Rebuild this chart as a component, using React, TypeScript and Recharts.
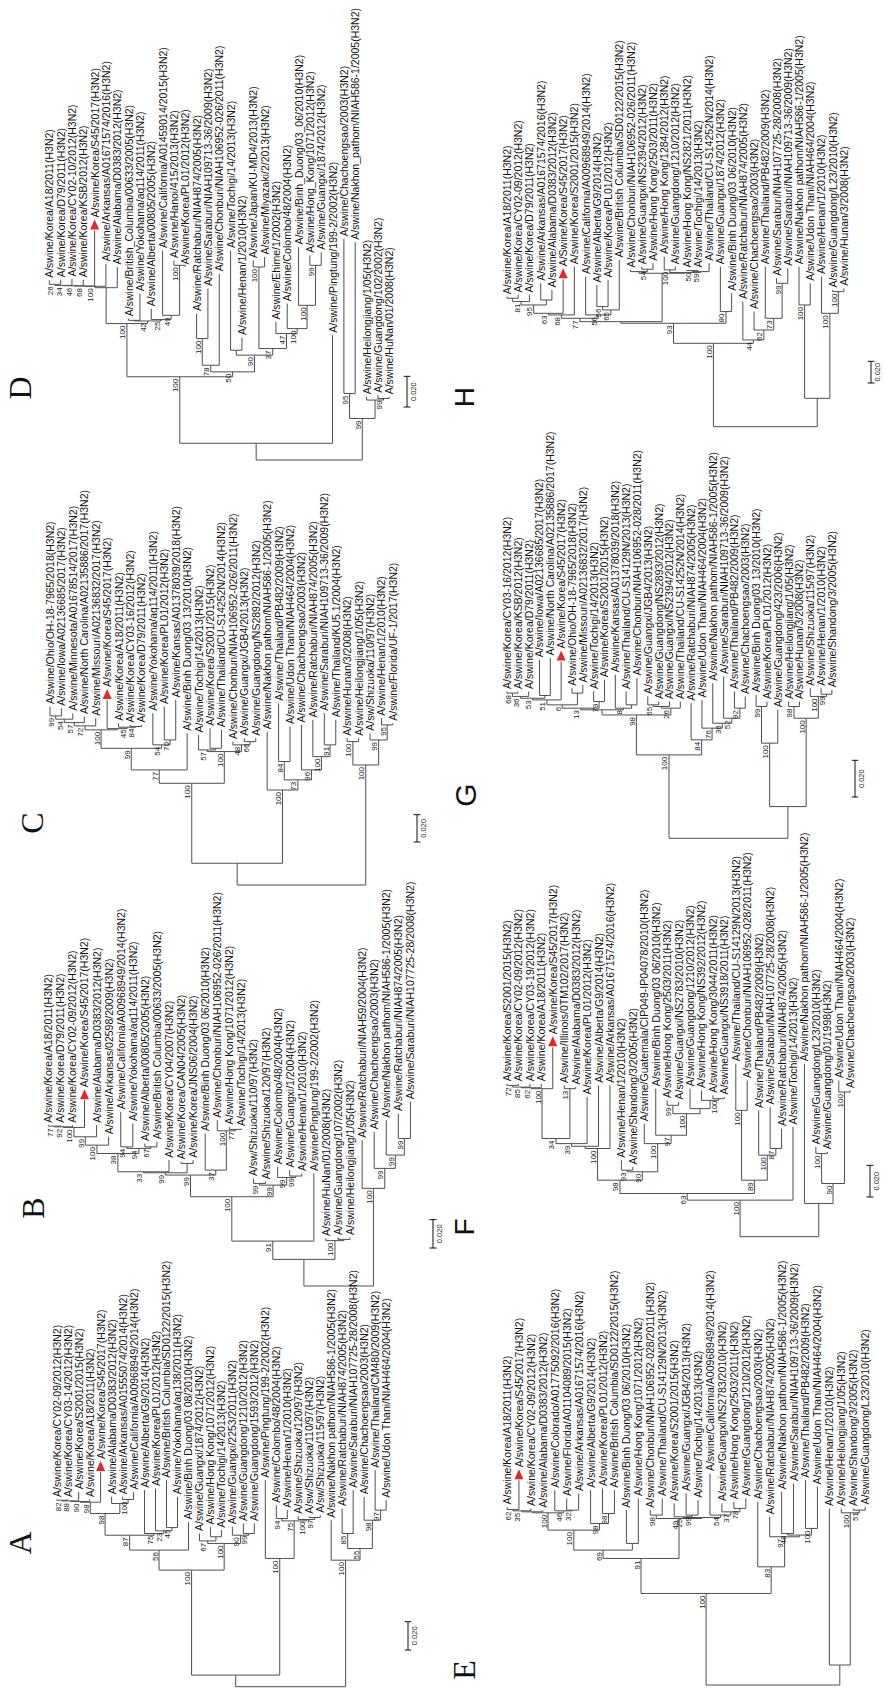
import { ComposedChart, Line, Scatter, XAxis, YAxis } from 'recharts';

// node rows: [first tip, last tip, distance from root (x0.001 subst./site), bootstrap]
type NodeRow = [number, number, number, number | null];

const tipsD = [
  'A/swine/Korea/A18/2011(H3N2)', 'A/swine/Korea/D79/2011(H3N2)', 'A/swine/Korea/CY02-10/2012(H3N2)',
  'A/swine/Korea/KSB/2012(H3N2)', 'A/swine/Korea/S45/2017(H3N2)', 'A/swine/Arkansas/A01671574/2016(H3N2)',
  'A/swine/Alabama/D0383/2012(H3N2)', 'A/swine/British_Columbia/00633/2005(H3N2)', 'A/swine/Yokohama/aq114/2011(H3N2)',
  'A/swine/Alberta/00805/2005(H3N2)', 'A/swine/California/A01459014/2015(H3N2)', 'A/swine/Hanoi/415/2013(H3N2)',
  'A/swine/Korea/PL01/2012(H3N2)', 'A/swine/Ratchaburi/NIAH874/2005(H3N2)', 'A/swine/Saraburi/NIAH109713-36/2009(H3N2)',
  'A/swine/Chonburi/NIAH106952-026/2011(H3N2)', 'A/swine/Tochigi/14/2013(H3N2)', 'A/swine/Henan/1/2010(H3N2)',
  'A/swine/Japan/KU-MD4/2013(H3N2)', 'A/swine/Miyazaki/2/2013(H3N2)', 'A/swine/Ehime/1/2002(H3N2)',
  'A/swine/Colombo/48/2004(H3N2)', 'A/swine/Binh_Duong/03_06/2010(H3N2)', 'A/swine/Hong_Kong/1071/2012(H3N2)',
  'A/swine/Guangxi/1874/2012(H3N2)', 'A/swine/Pingtung/199-2/2002(H3N2)', 'A/swine/Chachoengsao/2003(H3N2)',
  'A/swine/Nakhon_pathom/NIAH586-1/2005(H3N2)', 'A/swine/Heilongjiang/1/05(H3N2)', 'A/swine/Guangdong/102/2002(H3N2)',
  'A/swine/HuNan/01/2008(H3N2)',
];
const tipDepthD = [117.2, 117.6, 118.0, 117.6, 149.7, 128.0, 125.9, 92.2, 108.5, 98.7, 136.7, 130.2, 125.9, 95.5, 111.8, 121.5, 136.7, 79.9, 130.2, 132.4, 90.1, 102.0, 138.9, 133.5, 135.6, 81.4, 144.3, 142.1, 41.2, 42.3, 41.2];
const nodesD: NodeRow[] = [
  [0, 1, 114.6, 26], [0, 2, 113.9, 34], [0, 3, 113.7, 46], [0, 4, 113.5, 68], [0, 5, 113.3, 100], [0, 6, 112.4, null],
  [7, 8, 91.1, null], [11, 12, 127.0, 100], [10, 12, 94.4, 49], [9, 12, 91.6, 25], [7, 12, 90.7, 42], [0, 12, 89.0, 100],
  [13, 14, 79.2, 100], [13, 15, 61.8, 78], [16, 17, 71.6, null], [18, 19, 125.9, 100], [23, 24, 127.0, 99], [22, 24, 100.9, 100],
  [21, 24, 85.7, 100], [20, 24, 82.5, 47], [18, 24, 72.7, 37], [16, 24, 68.4, 90], [13, 24, 57.5, 50], [0, 24, 54.3, 100],
  [0, 25, 10.9, null], [26, 27, 43.4, 95], [29, 30, 40.1, 99], [28, 30, 39.1, null], [26, 30, 27.1, 99],
];

const tipsC = [
  'A/swine/Ohio/OH-18-7965/2018(H3N2)', 'A/swine/Iowa/A02136685/2017(H3N2)', 'A/swine/Minnesota/A01678514/2017(H3N2)',
  'A/swine/North Carolina/A02135886/2017(H3N2)', 'A/swine/Missouri/A02136832/2017(H3N2)', 'A/swine/Korea/S45/2017(H3N2)',
  'A/swine/Korea/A18/2011(H3N2)', 'A/swine/Korea/CY03-16/2012(H3N2)', 'A/swine/Korea/D79/2011(H3N2)',
  'A/swine/Yokohama/aq114/2011(H3N2)', 'A/swine/Korea/PL01/2012(H3N2)', 'A/swine/Kansas/A01378039/2018(H3N2)',
  'A/swine/Binh Duong/03 13/2010(H3N2)', 'A/swine/Tochigi/14/2013(H3N2)', 'A/swine/Korea/S2001/2015(H3N2)',
  'A/swine/Thailand/CU-S14252N/2014(H3N2)', 'A/swine/Chonburi/NIAH106952-026/2011(H3N2)', 'A/swine/Guangxi/JGB4/2013(H3N2)',
  'A/swine/Guangdong/NS2892/2012(H3N2)', 'A/swine/Nakhon pathom/NIAH586-1/2005(H3N2)', 'A/swine/Thailand/PB482/2009(H3N2)',
  'A/swine/Udon Thani/NIAH464/2004(H3N2)', 'A/swine/Chachoengsao/2003(H3N2)', 'A/swine/Ratchaburi/NIAH874/2005(H3N2)',
  'A/swine/Saraburi/NIAH109713-36/2009(H3N2)', 'A/swine/Thailand/KU5.1/2004(H3N2)', 'A/swine/Hunan/3/2008(H3N2)',
  'A/swine/Heilongjiang/1/05(H3N2)', 'A/sw/Shizuoka/110/97(H3N2)', 'A/swine/Henan/1/2010(H3N2)',
  'A/swine/Florida/UF-1/2017(H3N2)',
];
const tipDepthC = [130.5, 129.3, 125.7, 123.2, 122.0, 135.4, 118.3, 117.1, 117.1, 125.7, 130.5, 135.4, 111.0, 109.8, 114.7, 113.5, 104.9, 107.4, 107.4, 112.2, 133.0, 115.9, 117.1, 120.8, 125.7, 120.8, 107.4, 107.4, 111.0, 122.0, 118.3];
const nodesC: NodeRow[] = [
  [0, 1, 123.7, 99], [0, 2, 121.3, 54], [0, 3, 118.8, 57], [0, 4, 116.4, 72], [7, 8, 115.9, 84], [6, 8, 115.4, 45],
  [5, 8, 114.4, null], [0, 8, 113.5, 100], [10, 11, 106.1, 70], [9, 11, 102.5, 54], [0, 11, 100.0, 99], [0, 12, 84.2, 77],
  [14, 15, 100.0, null], [13, 15, 98.8, 57], [17, 18, 104.9, 66], [16, 18, 102.5, 48], [13, 18, 97.6, 100], [0, 18, 74.4, 100],
  [20, 21, 90.3, 84], [24, 25, 102.5, 91], [23, 25, 93.9, 100], [22, 25, 84.2, 96], [20, 25, 76.9, 73], [19, 25, 69.5, 100],
  [0, 25, 15.9, null], [26, 27, 104.9, 100], [29, 30, 117.1, 95], [28, 30, 106.1, 99], [26, 30, 87.8, 100],
];

const tipsB = [
  'A/swine/Korea/A18/2011(H3N2)', 'A/swine/Korea/D79/2011(H3N2)', 'A/swine/Korea/CY02-09/2012(H3N2)',
  'A/swine/Korea/S45/2017(H3N2)', 'A/swine/Alabama/D0383/2012(H3N2)', 'A/swine/Arkansas/02598/2009(H3N2)',
  'A/swine/California/A00968949/2014(H3N2)', 'A/swine/Yokohama/aq114/2011(H3N2)', 'A/swine/Alberta/00805/2005(H3N2)',
  'A/swine/British Columbia/00633/2005(H3N2)', 'A/swine/Korea/CY04/2007(H3N2)', 'A/swine/Korea/CAN04/2005(H3N2)',
  'A/swine/Korea/JNS06/2004(H3N2)', 'A/swine/Binh Duong/03 06/2010(H3N2)', 'A/swine/Chonburi/NIAH106952-026/2011(H3N2)',
  'A/swine/Hong Kong/1071/2012(H3N2)', 'A/swine/Tochigi/14/2013(H3N2)', 'A/sw/Shizuoka/110/97(H3N2)',
  'A/swine/Shizuoka/120/97(H3N2)', 'A/swine/Colombo/48/2004(H3N2)', 'A/swine/Guangxi/1/2004(H3N2)',
  'A/swine/Henan/1/2010(H3N2)', 'A/swine/Pingtung/199-2/2002(H3N2)', 'A/swine/HuNan/01/2008(H3N2)',
  'A/swine/Guangdong/107/2002(H3N2)', 'A/swine/Heilongjiang/1/05(H3N2)', 'A/swine/Ratchaburi/NIAH59/2004(H3N2)',
  'A/swine/Chachoengsao/2003(H3N2)', 'A/swine/Nakhon pathom/NIAH586-1/2005(H3N2)', 'A/swine/Ratchaburi/NIAH874/2005(H3N2)',
  'A/swine/Saraburi/NIAH107725-28/2008(H3N2)',
];
const tipDepthB = [113.5, 113.5, 113.5, 131.1, 113.5, 105.3, 122.9, 114.7, 100.6, 101.8, 88.8, 87.7, 88.8, 107.6, 117.0, 112.3, 111.2, 75.9, 73.6, 84.1, 81.8, 79.4, 79.4, 33.6, 34.3, 34.3, 102.9, 108.8, 117.0, 121.7, 130.0];
const nodesB: NodeRow[] = [
  [0, 1, 112.8, 77], [0, 2, 112.3, 92], [0, 3, 111.9, 100], [0, 4, 105.3, 99], [0, 5, 99.4, 100], [6, 7, 98.2, 94],
  [8, 9, 98.2, 67], [6, 9, 97.1, 94], [0, 9, 93.5, 38], [0, 10, 80.6, 33], [11, 12, 86.5, null], [0, 12, 79.9, 99],
  [15, 16, 110.5, 77], [14, 16, 109.5, 100], [13, 16, 81.8, 37], [0, 16, 78.3, 99], [17, 18, 72.4, 99], [20, 21, 77.6, 99],
  [19, 21, 76.6, 99], [17, 21, 71.2, 99], [0, 21, 63.0, 100], [0, 22, 31.7, 91], [24, 25, 32.9, null], [23, 25, 32.0, 100],
  [0, 25, 18.8, null], [29, 30, 104.1, 99], [28, 30, 92.4, 99], [27, 30, 83.0, 99], [26, 30, 68.9, 100],
];

const tipsA = [
  'A/swine/Korea/CY02-09/2012(H3N2)', 'A/swine/Korea/CY03-14/2012(H3N2)', 'A/swine/Korea/S2001/2015(H3N2)',
  'A/swine/Korea/A18/2011(H3N2)', 'A/swine/Korea/S45/2017(H3N2)', 'A/swine/Alabama/D0383/2012(H3N2)',
  'A/swine/Arkansas/A01555074/2014(H3N2)', 'A/swine/California/A00968949/2014(H3N2)', 'A/swine/Alberta/G9/2014(H3N2)',
  'A/swine/Korea/PL01/2012(H3N2)', 'A/swine/British Columbia/SD0122/2015(H3N2)', 'A/swine/Yokohama/aq138/2011(H3N2)',
  'A/swine/Binh Duong/03 08/2010(H3N2)', 'A/swine/Guangxi/1874/2012(H3N2)', 'A/swine/Hong Kong/1071/2012(H3N2)',
  'A/swine/Tochigi/14/2013(H3N2)', 'A/swine/Guangxi/2253/2011(H3N2)', 'A/swine/Guangdong/1210/2012(H3N2)',
  'A/swine/Guangdong/1593/2012(H3N2)', 'A/swine/Pingtung/199-2/2002(H3N2)', 'A/swine/Colombo/48/2004(H3N2)',
  'A/swine/Henan/1/2010(H3N2)', 'A/swine/Shizuoka/120/97(H3N2)', 'A/sw/Shizuoka/110/97(H3N2)',
  'A/sw/Shizuoka/115/97(H3N2)', 'A/swine/Nakhon pathom/NIAH586-1/2005(H3N2)', 'A/swine/Ratchaburi/NIAH874/2005(H3N2)',
  'A/swine/Saraburi/NIAH107725-28/2008(H3N2)', 'A/swine/Chachoengsao/2003(H3N2)', 'A/swine/Thailand/CM480/2009(H3N2)',
  'A/swine/Udon Thani/NIAH464/2004(H3N2)',
];
const tipDepthA = [132.1, 132.1, 137.5, 132.1, 151.6, 134.0, 134.0, 137.5, 138.7, 139.8, 145.7, 134.0, 116.3, 108.1, 112.8, 110.5, 112.8, 115.2, 115.2, 145.7, 128.1, 124.6, 120.3, 120.3, 121.0, 117.5, 125.7, 138.7, 134.0, 152.8, 131.6];
const nodesA: NodeRow[] = [
  [0, 1, 131.6, 82], [0, 2, 131.1, 88], [0, 3, 130.7, 90], [0, 4, 130.2, 98], [6, 7, 132.1, 100], [5, 7, 129.3, null],
  [0, 7, 122.2, 98], [10, 11, 112.3, 45], [9, 11, 110.0, 23], [8, 11, 108.1, 75], [0, 11, 106.9, 87], [0, 12, 96.4, 56],
  [14, 15, 105.8, null], [13, 15, 102.9, 67], [17, 18, 108.1, 99], [16, 18, 106.9, 90], [13, 18, 101.1, 100], [0, 18, 82.3, 100],
  [20, 21, 118.7, 94], [23, 24, 119.4, 97], [22, 24, 118.0, 100], [20, 24, 117.0, 75], [19, 24, 90.5, 100], [0, 24, 8.2, null],
  [26, 27, 108.1, 85], [29, 30, 124.6, 97], [28, 30, 117.5, 98], [26, 30, 97.5, 55], [25, 30, 89.3, 100],
];

const tipsH = [
  'A/swine/Korea/A18/2011(H3N2)', 'A/swine/Korea/CY02-09/2012(H3N2)', 'A/swine/Korea/D79/2011(H3N2)',
  'A/swine/Arkansas/A01671574/2016(H3N2)', 'A/swine/Alabama/D0383/2012(H3N2)', 'A/Swine/Korea/S45/2017(H3N2)',
  'A/swine/Korea/S2001/2015(H3N2)', 'A/swine/California/A00968949/2014(H3N2)', 'A/swine/Alberta/G9/2014(H3N2)',
  'A/swine/Korea/PL01/2012(H3N2)', 'A/swine/British Columbia/SD0122/2015(H3N2)', 'A/swine/Chonburi/NIAH106952-026/2011(H3N2)',
  'A/swine/Guangxi/NS2394/2012(H3N2)', 'A/swine/Hong Kong/2503/2011(H3N2)', 'A/swine/Hong Kong/1284/2012(H3N2)',
  'A/swine/Guangdong/1210/2012(H3N2)', 'A/swine/Hong Kong/NS2821/2011(H3N2)', 'A/swine/Tochigi/14/2013(H3N2)',
  'A/swine/Thailand/CU-S14252N/2014(H3N2)', 'A/swine/Guangxi/1874/2012(H3N2)', 'A/swine/Binh Duong/03 06/2010(H3N2)',
  'A/swine/Ratchaburi/NIAH874/2005(H3N2)', 'A/swine/Chachoengsao/2003(H3N2)', 'A/swine/Thailand/PB482/2009(H3N2)',
  'A/swine/Saraburi/NIAH107725-28/2008(H3N2)', 'A/swine/Saraburi/NIAH109713-36/2009(H3N2)', 'A/swine/Nakhon pathom/NIAH586-1/2005(H3N2)',
  'A/swine/Udon Thani/NIAH464/2004(H3N2)', 'A/swine/Henan/1/2010(H3N2)', 'A/swine/Guangdong/L23/2010(H3N2)',
  'A/swine/Hunan/3/2008(H3N2)',
];
const tipDepthH = [120.1, 121.7, 121.7, 132.4, 126.3, 136.1, 147.8, 138.6, 130.9, 135.5, 154.0, 144.8, 147.8, 150.9, 157.1, 147.8, 144.8, 144.8, 150.9, 147.8, 123.2, 115.5, 106.3, 147.8, 137.1, 146.3, 147.8, 132.4, 138.6, 126.3, 127.8];
const nodesH: NodeRow[] = [
  [0, 1, 118.6, null], [0, 2, 115.5, 81], [3, 4, 117.0, null], [0, 4, 112.4, 95], [0, 5, 104.7, 63], [0, 6, 103.2, 68],
  [8, 9, 110.9, 56], [8, 10, 107.8, 65], [7, 10, 103.2, 56], [0, 10, 100.1, 77], [12, 13, 145.4, 54], [11, 13, 143.2, null],
  [14, 15, 144.8, 100], [16, 17, 144.1, 50], [16, 18, 143.2, 59], [14, 18, 142.3, null], [11, 18, 141.7, null], [0, 18, 97.0, null],
  [19, 20, 106.3, 80], [0, 20, 95.5, 93], [24, 25, 132.4, 99], [23, 25, 100.1, 73], [22, 25, 89.3, 62], [21, 25, 80.1, 44],
  [0, 25, 77.0, 100], [26, 27, 112.4, 100], [29, 30, 124.7, 100], [28, 30, 104.7, 100], [26, 30, 26.2, null],
];

const tipsG = [
  'A/swine/Korea/CY03-16/2012(H3N2)', 'A/swine/Korea/KSB/2012(H3N2)', 'A/swine/Korea/D79/2011(H3N2)',
  'A/swine/Iowa/A02136685/2017(H3N2)', 'A/swine/North Carolina/A02135886/2017(H3N2)', 'A/swine/Korea/S45/2017(H3N2)',
  'A/swine/Ohio/OH-18-7965/2018(H3N2)', 'A/swine/Missouri/A02136832/2017(H3N2)', 'A/swine/Tochigi/14/2013(H3N2)',
  'A/swine/Korea/S2001/2015(H3N2)', 'A/swine/Kansas/A01378039/2018(H3N2)', 'A/swine/Thailand/CU-S14129N/2013(H3N2)',
  'A/swine/Chonburi/NIAH106952-028/2011(H3N2)', 'A/swine/Guangxi/JGB4/2013(H3N2)', 'A/swine/Guangdong/NS2893/2012(H3N2)',
  'A/swine/Guangxi/NS2394/2012(H3N2)', 'A/swine/Thailand/CU-S14252N/2014(H3N2)', 'A/swine/Ratchaburi/NIAH874/2005(H3N2)',
  'A/swine/Udon Thani/NIAH464/2004(H3N2)', 'A/swine/Nakhon pathom/NIAH586-1/2005(H3N2)', 'A/swine/Saraburi/NIAH109713-36/2009(H3N2)',
  'A/swine/Thailand/PB482/2009(H3N2)', 'A/swine/Chachoengsao/2003(H3N2)', 'A/swine/Binh Duong/03 13/2010(H3N2)',
  'A/swine/Korea/PL01/2012(H3N2)', 'A/swine/Guangdong/423/2006(H3N2)', 'A/swine/Heilongjiang/1/05(H3N2)',
  'A/swine/Hunan/3/2008(H3N2)', 'A/swine/Shizuoka/115/97(H3N2)', 'A/swine/Henan/1/2010(H3N2)',
  'A/swine/Shandong/3/2005(H3N2)',
];
const tipDepthG = [80.1, 80.1, 80.1, 97.4, 98.3, 96.5, 81.9, 83.7, 80.1, 86.5, 89.2, 80.1, 87.4, 77.4, 74.6, 74.6, 74.6, 73.7, 75.5, 84.6, 88.3, 80.1, 77.4, 78.3, 74.6, 70.1, 74.6, 74.6, 81.9, 81.9, 81.0];
const nodesG: NodeRow[] = [
  [0, 1, 79.2, 68], [0, 2, 77.4, 36], [3, 4, 77.9, null], [0, 4, 76.4, 53], [0, 5, 75.5, 51], [6, 7, 79.2, null],
  [0, 7, 72.8, 6], [8, 9, 74.6, 79], [0, 9, 71.0, 13], [11, 12, 72.8, null], [10, 12, 71.0, 8], [0, 12, 70.1, null],
  [13, 14, 72.8, 65], [13, 15, 71.9, null], [13, 16, 71.0, 26], [0, 16, 67.3, 98], [21, 22, 71.0, 92], [20, 22, 65.5, 52],
  [19, 22, 62.8, 36], [18, 22, 60.1, 76], [17, 22, 53.7, 84], [0, 22, 45.5, 100], [23, 24, 71.9, 99], [23, 25, 51.9, 100],
  [26, 27, 71.9, 98], [29, 30, 78.6, 99], [28, 30, 77.4, 100], [26, 30, 65.5, 100], [23, 30, 17.3, null],
];

const tipsF = [
  'A/swine/Korea/S2001/2015(H3N2)', 'A/swine/Korea/CY02-09/2012(H3N2)', 'A/swine/Korea/CY03-19/2012(H3N2)',
  'A/swine/Korea/A18/2011(H3N2)', 'A/swine/Korea/S45/2017(H3N2)', 'A/swine/Illinois/0TM102/2017(H3N2)',
  'A/swine/Alabama/D0383/2012(H3N2)', 'A/swine/Korea/PL01/2012(H3N2)', 'A/swine/Alberta/G9/2014(H3N2)',
  'A/swine/Arkansas/A01671574/2016(H3N2)', 'A/swine/Henan/1/2010(H3N2)', 'A/swine/Shandong/3/2005(H3N2)',
  'A/swine/Guatemala/CIP049-IP04078/2010(H3N2)', 'A/swine/Binh Duong/03 06/2010(H3N2)', 'A/swine/Hong Kong/2503/2011(H3N2)',
  'A/swine/Guangxi/NS2783/2010(H3N2)', 'A/swine/Guangdong/1210/2012(H3N2)', 'A/swine/Hong Kong/NS392/2012(H3N2)',
  'A/swine/Hong Kong/3044/2011(H3N2)', 'A/swine/Guangxi/NS3918/2011(H3N2)', 'A/swine/Thailand/CU-S14129N/2013(H3N2)',
  'A/swine/Chonburi/NIAH106952-028/2011(H3N2)', 'A/swine/Thailand/PB482/2009(H3N2)', 'A/swine/Saraburi/NIAH107725-28/2008(H3N2)',
  'A/swine/Ratchaburi/NIAH874/2005(H3N2)', 'A/swine/Tochigi/14/2013(H3N2)', 'A/swine/Nakhon pathom/NIAH586-1/2005(H3N2)',
  'A/swine/Guangdong/L23/2010(H3N2)', 'A/swine/Guangdong/01/1998(H3N2)', 'A/swine/Udon Thani/NIAH464/2004(H3N2)',
  'A/swine/Chachoengsao/2003(H3N2)',
];
const tipDepthF = [96.6, 96.6, 96.6, 96.6, 119.7, 95.6, 94.5, 88.2, 95.6, 95.6, 48.3, 44.1, 71.4, 93.5, 86.1, 85.1, 93.5, 92.4, 89.3, 88.2, 109.2, 98.7, 79.8, 81.9, 68.3, 69.3, 109.2, 56.7, 53.6, 98.7, 92.4];
const nodesF: NodeRow[] = [
  [0, 1, 95.6, 72], [0, 2, 94.5, 85], [0, 3, 94.1, 62], [0, 4, 93.5, 100], [5, 6, 93.5, 13], [0, 6, 62.0, 34],
  [0, 7, 58.8, 39], [0, 8, 57.1, null], [0, 9, 55.7, 100], [10, 11, 42.0, 93], [14, 15, 83.0, 99], [18, 19, 87.2, 100],
  [17, 19, 86.1, null], [16, 19, 80.9, null], [14, 19, 77.7, 100], [13, 19, 64.1, 97], [12, 19, 58.8, 100], [10, 19, 41.0, 90],
  [0, 19, 35.7, 98], [20, 21, 79.8, 100], [23, 24, 55.7, 87], [22, 24, 51.5, 100], [20, 24, 35.7, 89], [0, 24, 27.3, 63],
  [0, 25, 23.1, 100], [27, 28, 52.5, 100], [29, 30, 91.4, 100], [27, 30, 33.6, 90], [26, 30, 21.0, null],
];

const tipsE = [
  'A/swine/Korea/A18/2011(H3N2)', 'A/swine/Korea/S45/2017(H3N2)', 'A/swine/Korea/CY02-09/2012(H3N2)',
  'A/swine/Alabama/D0383/2012(H3N2)', 'A/swine/Colorado/A01775092/2016(H3N2)', 'A/swine/Florida/A01104089/2015(H3N2)',
  'A/swine/Arkansas/A01671574/2016(H3N2)', 'A/swine/Alberta/G9/2014(H3N2)', 'A/swine/Korea/PL01/2012(H3N2)',
  'A/swine/British Columbia/SD0122/2015(H3N2)', 'A/swine/Binh Duong/03 06/2010(H3N2)', 'A/swine/Hong Kong/1071/2012(H3N2)',
  'A/swine/Chonburi/NIAH106952-028/2011(H3N2)', 'A/swine/Thailand/CU-S14129N/2013(H3N2)', 'A/swine/Korea/S2001/2015(H3N2)',
  'A/swine/Guangxi/JGB4/2013(H3N2)', 'A/swine/Tochigi/14/2013(H3N2)', 'A/swine/California/A00968949/2014(H3N2)',
  'A/swine/Guangxi/NS2783/2010(H3N2)', 'A/swine/Hong Kong/2503/2011(H3N2)', 'A/swine/Guangdong/1210/2012(H3N2)',
  'A/swine/Chachoengsao/2003(H3N2)', 'A/swine/Ratchaburi/NIAH874/2005(H3N2)', 'A/swine/Nakhon pathom/NIAH586-1/2005(H3N2)',
  'A/swine/Saraburi/NIAH109713-36/2009(H3N2)', 'A/swine/Thailand/PB482/2009(H3N2)', 'A/swine/Udon Thani/NIAH464/2004(H3N2)',
  'A/swine/Henan/1/2010(H3N2)', 'A/swine/Heilongjiang/1/05(H3N2)', 'A/swine/Shandong/3/2005(H3N2)',
  'A/swine/Guangdong/L23/2010(H3N2)',
];
const tipDepthE = [125.7, 144.5, 124.6, 123.4, 137.5, 131.6, 135.1, 137.5, 138.7, 137.5, 123.4, 131.6, 123.4, 131.6, 128.1, 135.1, 130.4, 149.2, 128.1, 129.3, 131.6, 129.3, 118.7, 136.3, 142.2, 144.5, 139.8, 124.6, 124.6, 124.6, 125.7];
const nodesE: NodeRow[] = [
  [0, 1, 123.8, 62], [0, 2, 122.9, 35], [0, 3, 122.2, null], [5, 6, 123.4, 32], [4, 6, 122.9, 46], [0, 6, 121.5, 100],
  [8, 9, 121.0, 98], [7, 9, 114.0, 98], [0, 9, 109.3, 100], [10, 11, 99.9, null], [0, 11, 95.2, 69], [12, 13, 119.9, 98],
  [19, 20, 124.6, 78], [18, 20, 122.2, 37], [17, 20, 119.9, 54], [15, 16, 119.9, 99], [14, 16, 118.7, 25], [14, 20, 118.2, null],
  [12, 20, 117.5, 49], [0, 20, 89.3, 91], [25, 26, 110.5, 100], [23, 24, 106.9, 48], [23, 26, 105.8, null], [22, 26, 104.6, 97],
  [21, 26, 83.4, 83], [0, 26, 64.6, 100], [29, 30, 123.4, 51], [28, 30, 121.5, 100], [27, 30, 14.1, null],
];

const SCALE_BAR = 20; // 0.020 substitutions per site
const MARKED = 'S45/2017';
const SANS = '"Liberation Sans", Arial, sans-serif';
const SERIF = '"Liberation Serif", "Times New Roman", serif';

type Panel = {
  id: string; tips: string[]; depth: number[]; nodes: NodeRow[];
  left: number; top: number; width: number; height: number;
  tip0: number; step: number; rootY: number; ppm: number;
  bar: { x: number; y: number } | null;
  letter: { x: number; y: number; serif: boolean; size: number };
};

const panels: Panel[] = [
  { id: 'D', tips: tipsD, depth: tipDepthD, nodes: nodesD, left: 0, top: 0, width: 442, height: 470, tip0: 49.3, step: 11.33, rootY: 460, ppm: 1.533, bar: { x: 407, y: 407 }, letter: { x: 20, y: 388, serif: true, size: 32 } },
  { id: 'C', tips: tipsC, depth: tipDepthC, nodes: nodesC, left: 0, top: 440, width: 442, height: 455, tip0: 50, step: 11.43, rootY: 885, ppm: 1.367, bar: { x: 417, y: 842 }, letter: { x: 32, y: 823, serif: true, size: 32 } },
  { id: 'B', tips: tipsB, depth: tipDepthB, nodes: nodesB, left: 0, top: 880, width: 442, height: 420, tip0: 48.3, step: 12.07, rootY: 1286, ppm: 1.417, bar: { x: 433, y: 1248 }, letter: { x: 33, y: 1208, serif: true, size: 32 } },
  { id: 'A', tips: tipsA, depth: tipDepthA, nodes: nodesA, left: 0, top: 1285, width: 442, height: 405, tip0: 56.7, step: 10.98, rootY: 1686.7, ppm: 1.417, bar: { x: 408, y: 1650 }, letter: { x: 20, y: 1543, serif: true, size: 32 } },
  { id: 'H', tips: tipsH, depth: tipDepthH, nodes: nodesH, left: 442, top: 0, width: 442, height: 440, tip0: 507, step: 11.23, rootY: 426.7, ppm: 1.083, bar: { x: 871, y: 383 }, letter: { x: 464, y: 397, serif: false, size: 28 } },
  { id: 'G', tips: tipsG, depth: tipDepthG, nodes: nodesG, left: 442, top: 425, width: 442, height: 430, tip0: 507, step: 10.83, rootY: 838.3, ppm: 1.833, bar: { x: 855, y: 797 }, letter: { x: 465, y: 795, serif: false, size: 30 } },
  { id: 'F', tips: tipsF, depth: tipDepthF, nodes: nodesF, left: 442, top: 845, width: 442, height: 400, tip0: 507, step: 11.44, rootY: 1236.7, ppm: 1.583, bar: { x: 870, y: 1197 }, letter: { x: 464, y: 1227, serif: false, size: 28 } },
  { id: 'E', tips: tipsE, depth: tipDepthE, nodes: nodesE, left: 442, top: 1240, width: 442, height: 450, tip0: 507, step: 11.94, rootY: 1685, ppm: 1.417, bar: null, letter: { x: 464, y: 1670, serif: true, size: 32 } },
];

function buildTree(tips: string[], depth: number[], nodes: NodeRow[]) {
  const n = tips.length;
  const list = nodes.map(([lo, hi, d, bs]) => ({ lo, hi, d, bs, x: 0, used: false }));
  if (!list.some((nd) => nd.lo === 0 && nd.hi === n - 1)) list.push({ lo: 0, hi: n - 1, d: 0, bs: null, x: 0, used: false });
  list.sort((a, b) => a.hi - a.lo - (b.hi - b.lo));
  const tipUsed = new Array(n).fill(false);
  const edges: { x: number; y: number | null }[] = [];
  list.forEach((nd, i) => {
    const kids: { pos: number; x: number; d: number }[] = [];
    for (let j = 0; j < i; j++) {
      const c = list[j];
      if (!c.used && c.lo >= nd.lo && c.hi <= nd.hi) {
        c.used = true;
        kids.push({ pos: c.lo, x: c.x, d: c.d });
      }
    }
    for (let t = nd.lo; t <= nd.hi; t++) {
      if (!tipUsed[t]) {
        tipUsed[t] = true;
        kids.push({ pos: t, x: t, d: depth[t] });
      }
    }
    kids.sort((a, b) => a.pos - b.pos);
    const x0 = kids[0].x;
    const x1 = kids[kids.length - 1].x;
    nd.x = (x0 + x1) / 2;
    edges.push({ x: x0, y: nd.d }, { x: x1, y: nd.d }, { x: x1, y: null });
    kids.forEach((k) => edges.push({ x: k.x, y: nd.d }, { x: k.x, y: k.d }, { x: k.x, y: null }));
  });
  const boots = list.filter((nd) => nd.bs !== null).map((nd) => ({ x: nd.x, y: nd.d, bs: nd.bs }));
  const leaves = tips.map((label, i) => ({ x: i, y: depth[i], label, marked: label.includes(MARKED) }));
  return { edges, boots, leaves };
}

const TipLabel = (p: any) => {
  const { cx, cy } = p;
  const d = p.payload ?? p;
  const gap = d.marked ? 13 : 2.5;
  const ty = cy - gap;
  return (
    <g>
      {d.marked && <polygon points={`${cx - 4.5},${cy - 1} ${cx + 4.5},${cy - 1} ${cx},${cy - 11}`} fill="#e8262a" />}
      <text x={cx} y={ty} transform={`rotate(-90 ${cx} ${ty})`} fontSize={10.5} fontFamily={SANS} dominantBaseline="central" fill="#111">
        {d.label}
      </text>
    </g>
  );
};

const BootLabel = (p: any) => {
  const d = p.payload ?? p;
  const x = p.cx - 1.5;
  const y = p.cy + 2;
  return (
    <text x={x} y={y} transform={`rotate(-90 ${x} ${y})`} textAnchor="end" fontSize={8} fontFamily={SANS} fill="#222">
      {d.bs}
    </text>
  );
};

const BarLabel = (p: any) => {
  const x = p.cx + 7;
  const y = p.cy;
  return (
    <text x={x} y={y} transform={`rotate(-90 ${x} ${y})`} textAnchor="middle" dominantBaseline="central" fontSize={7.5} fontFamily={SANS} fill="#222">
      0.020
    </text>
  );
};

function TreePanel({ p }: { p: Panel }) {
  const { edges, boots, leaves } = buildTree(p.tips, p.depth, p.nodes);
  const xDomain = [(p.left - p.tip0) / p.step, (p.left + p.width - p.tip0) / p.step];
  const yDomain = [(p.rootY - (p.top + p.height)) / p.ppm, (p.rootY - p.top) / p.ppm];
  let barLine: { x: number; y: number | null }[] = [];
  let barText: { x: number; y: number }[] = [];
  if (p.bar) {
    const bx = (p.bar.x - p.tip0) / p.step;
    const by = (p.rootY - p.bar.y) / p.ppm;
    const t = 0.3;
    barLine = [
      { x: bx - t, y: by }, { x: bx + t, y: by }, { x: bx, y: null },
      { x: bx, y: by }, { x: bx, y: by + SCALE_BAR }, { x: bx, y: null },
      { x: bx - t, y: by + SCALE_BAR }, { x: bx + t, y: by + SCALE_BAR },
    ];
    barText = [{ x: bx, y: by + SCALE_BAR / 2 }];
  }
  return (
    <div style={{ position: 'absolute', left: p.left, top: p.top }}>
      <ComposedChart width={p.width} height={p.height} margin={{ top: 0, right: 0, bottom: 0, left: 0 }}>
        <XAxis type="number" dataKey="x" domain={xDomain} hide />
        <YAxis type="number" dataKey="y" domain={yDomain} hide />
        <Line data={edges} dataKey="y" stroke="#4f4f4f" strokeWidth={1} dot={false} activeDot={false} connectNulls={false} isAnimationActive={false} />
        <Scatter data={leaves} shape={TipLabel} isAnimationActive={false} />
        <Scatter data={boots} shape={BootLabel} isAnimationActive={false} />
        {p.bar && <Line data={barLine} dataKey="y" stroke="#111" strokeWidth={1} dot={false} activeDot={false} connectNulls={false} isAnimationActive={false} />}
        {p.bar && <Scatter data={barText} shape={BarLabel} isAnimationActive={false} />}
      </ComposedChart>
    </div>
  );
}

export default function App() {
  return (
    <div style={{ position: 'absolute', left: 0, top: 0, width: 884, height: 1690, background: '#fff', overflow: 'hidden' }}>
      <style>{'.recharts-surface{overflow:visible}'}</style>
      {panels.map((p) => (
        <TreePanel key={p.id} p={p} />
      ))}
      <svg width={884} height={1690} style={{ position: 'absolute', left: 0, top: 0, pointerEvents: 'none' }}>
        {panels.map((p) => (
          <text
            key={p.id}
            x={p.letter.x}
            y={p.letter.y}
            transform={`rotate(-90 ${p.letter.x} ${p.letter.y})`}
            textAnchor="middle"
            dominantBaseline="central"
            fontSize={p.letter.size}
            fontFamily={p.letter.serif ? SERIF : SANS}
            fill="#111"
          >
            {p.id}
          </text>
        ))}
      </svg>
    </div>
  );
}
